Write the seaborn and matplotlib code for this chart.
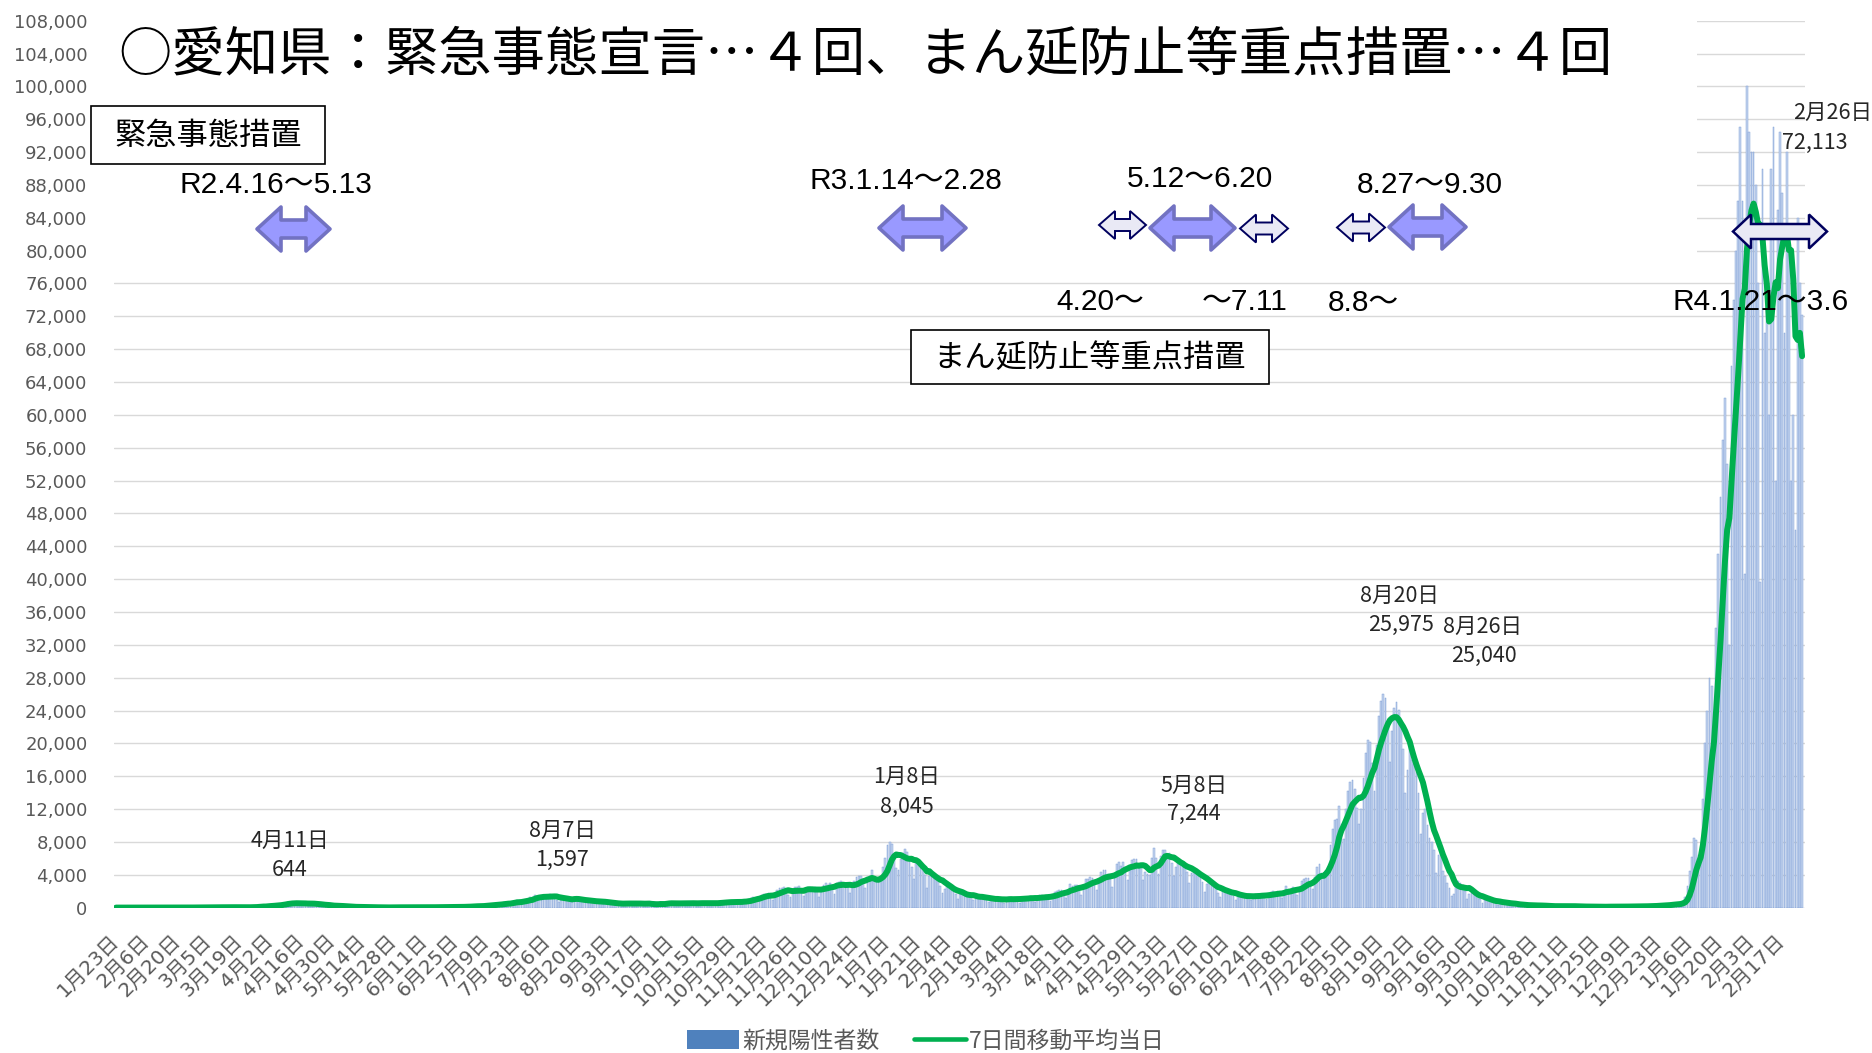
import numpy as np
import pandas as pd
import matplotlib
matplotlib.use("Agg")
import matplotlib.pyplot as plt
from matplotlib.patches import Rectangle, Polygon, Patch
from matplotlib.lines import Line2D
from matplotlib.font_manager import FontProperties
import seaborn as sns

# ---------------- data ----------------
# daily new positive cases, 2020-01-23 (Thu) .. 2022-02-26 (Sat); one row = Thu..Wed
cases = [
    0, 0, 1, 0, 1, 0, 1,
    3, 2, 3, 0, 0, 1, 3,
    2, 1, 0, 2, 3, 1, 1,
    4, 4, 12, 4, 6, 5, 8,
    12, 10, 15, 12, 6, 14, 13,
    19, 18, 12, 9, 14, 12, 33,
    33, 56, 44, 34, 34, 26, 54,
    52, 62, 41, 62, 15, 44, 39,
    39, 40, 51, 32, 40, 56, 65,
    95, 123, 200, 194, 173, 87, 266,
    236, 235, 367, 353, 252, 375, 515,
    576, 620, 644, 557, 347, 460, 485,
    580, 570, 560, 450, 370, 390, 430,
    430, 440, 350, 220, 170, 280, 250,
    200, 220, 290, 200, 110, 90, 120,
    95, 110, 100, 60, 70, 85, 60,
    55, 60, 45, 25, 50, 30, 30,
    30, 25, 15, 15, 20, 30, 30,
    40, 45, 40, 40, 35, 40, 45,
    48, 40, 45, 45, 30, 40, 38,
    50, 60, 50, 48, 35, 45, 55,
    70, 68, 70, 60, 30, 60, 90,
    100, 105, 120, 100, 60, 110, 130,
    200, 230, 210, 200, 100, 160, 220,
    360, 420, 380, 340, 180, 320, 420,
    620, 650, 660, 500, 280, 630, 790,
    980, 780, 790, 850, 650, 990, 1260,
    1300, 1580, 1450, 1330, 960, 1240, 1360,
    1480, 1597, 1540, 1360, 900, 680, 970,
    1180, 1320, 1220, 1020, 660, 930, 1080,
    1080, 1040, 910, 760, 500, 700, 850,
    840, 870, 760, 630, 420, 580, 620,
    590, 580, 530, 430, 280, 480, 500,
    640, 610, 540, 440, 270, 500, 510,
    590, 550, 490, 480, 310, 240, 350,
    490, 540, 640, 470, 310, 520, 570,
    620, 560, 570, 420, 330, 550, 560,
    690, 620, 550, 420, 300, 520, 660,
    700, 620, 620, 400, 280, 500, 620,
    720, 730, 800, 600, 400, 650, 740,
    800, 850, 750, 600, 450, 860, 840,
    1050, 1140, 1300, 1200, 860, 1260, 1540,
    1660, 1700, 1730, 1440, 950, 1700, 2200,
    2390, 2420, 2510, 2100, 1520, 1230, 1900,
    2500, 2500, 2680, 2060, 1430, 2020, 2430,
    2520, 2440, 2500, 2050, 1330, 2100, 2800,
    2970, 2790, 3040, 2400, 1680, 2990, 3170,
    3210, 2990, 2800, 2480, 1810, 2660, 3270,
    3740, 3830, 3880, 3290, 2370, 3540, 3850,
    4520, 3250, 3060, 3140, 3320, 4900, 6000,
    7570, 8045, 7790, 6090, 4880, 4540, 5870,
    6600, 7130, 6800, 5760, 4930, 3540, 5660,
    5450, 5040, 4740, 3980, 2330, 3860, 3890,
    3940, 3580, 3450, 2670, 1790, 2320, 2630,
    2570, 2290, 1990, 1600, 1020, 1680, 2050,
    1620, 1320, 1580, 1360, 980, 1220, 1450,
    1330, 1240, 1230, 1100, 680, 1000, 1080,
    1060, 1220, 1040, 980, 600, 1000, 1230,
    1170, 1150, 1070, 1060, 620, 1120, 1320,
    1290, 1300, 1320, 1070, 730, 1130, 1500,
    1480, 1410, 1500, 1350, 810, 1500, 1910,
    2000, 2100, 2100, 1900, 1200, 2100, 2900,
    2570, 2710, 2780, 2470, 1570, 2650, 3450,
    3460, 3690, 3630, 3130, 2120, 3450, 4310,
    4560, 4530, 4100, 3530, 2480, 3910, 5290,
    5500, 5120, 5600, 4600, 3310, 4880, 5800,
    5900, 5860, 5310, 5020, 3360, 4300, 4100,
    4000, 6050, 7244, 6040, 4050, 6250, 7050,
    7000, 6500, 6700, 5400, 3800, 4900, 5800,
    5500, 5500, 5200, 4300, 3000, 4200, 4700,
    4300, 4100, 3800, 3100, 1900, 2900, 3200,
    2700, 2600, 2420, 1830, 1260, 2100, 2260,
    2010, 1940, 1700, 1390, 920, 1440, 1640,
    1560, 1520, 1390, 1310, 870, 1370, 1700,
    1660, 1630, 1590, 1400, 1010, 1560, 1950,
    1970, 1890, 1970, 1600, 1120, 2000, 2650,
    2240, 2270, 2500, 2120, 1480, 2350, 3190,
    3430, 3560, 3640, 2700, 2310, 3750, 5000,
    5350, 4200, 3800, 4500, 4690, 7630, 9580,
    10690, 10760, 12340, 10160, 8390, 12020, 14210,
    15260, 15510, 14470, 12070, 10140, 11990, 15800,
    18870, 20370, 20150, 17660, 14220, 19790, 23380,
    25150, 25975, 25490, 22280, 17710, 21520, 24310,
    25040, 24010, 22250, 19270, 13910, 16780, 20000,
    18000, 17500, 16500, 14000, 9000, 11500, 12000,
    10000, 8500, 8000, 7000, 4200, 6400, 6800,
    4500, 3900, 3000, 2400, 1400, 1600, 3000,
    3200, 3000, 2700, 2000, 1100, 1700, 1800,
    1600, 1500, 1400, 1100, 600, 900, 1100,
    900, 800, 800, 600, 370, 600, 690,
    620, 500, 500, 430, 230, 390, 390,
    340, 320, 290, 230, 150, 300, 300,
    290, 280, 280, 160, 90, 210, 160,
    230, 180, 200, 160, 110, 200, 210,
    190, 190, 180, 130, 80, 130, 160,
    140, 130, 140, 100, 60, 50, 120,
    130, 110, 130, 110, 80, 110, 130,
    130, 120, 130, 130, 80, 120, 150,
    160, 140, 140, 130, 90, 170, 190,
    170, 200, 190, 180, 130, 250, 270,
    290, 320, 350, 270, 230, 380, 500,
    470, 500, 450, 550, 780, 1270, 2640,
    4500, 6200, 8500, 8200, 6400, 6400, 13200,
    20000, 24000, 28000, 27000, 22000, 34000, 43000,
    50000, 57000, 62000, 54000, 32000, 66000, 74000,
    80000, 86000, 95000, 86000, 40600, 100000, 94500,
    92000, 92000, 88000, 76000, 39600, 90000, 70000,
    76000, 60000, 90000, 95000, 52000, 85000, 94500,
    87000, 70000, 92000, 80000, 51900, 60000, 46000,
    84000, 76000, 72113,
]

tick_labels = [
    "1月23日", "2月6日", "2月20日", "3月5日", "3月19日", "4月2日", "4月16日", "4月30日",
    "5月14日", "5月28日", "6月11日", "6月25日", "7月9日", "7月23日", "8月6日", "8月20日",
    "9月3日", "9月17日", "10月1日", "10月15日", "10月29日", "11月12日", "11月26日",
    "12月10日", "12月24日", "1月7日", "1月21日", "2月4日", "2月18日", "3月4日", "3月18日",
    "4月1日", "4月15日", "4月29日", "5月13日", "5月27日", "6月10日", "6月24日", "7月8日",
    "7月22日", "8月5日", "8月19日", "9月2日", "9月16日", "9月30日", "10月14日", "10月28日",
    "11月11日", "11月25日", "12月9日", "12月23日", "1月6日", "1月20日", "2月3日", "2月17日",
]
y_ticks = list(range(0, 108001, 4000))

series_names = ["新規陽性者数", "7日間移動平均当日"]
title_text = "○愛知県：緊急事態宣言…４回、まん延防止等重点措置…４回"
peak_labels = [("4月11日", "644"), ("8月7日", "1,597"), ("1月8日", "8,045"),
               ("5月8日", "7,244"), ("8月20日", "25,975"), ("8月26日", "25,040"),
               ("2月26日", "72,113")]

# ---------------- style ----------------
sns.set_theme(style="white")
plt.rcParams['font.family'] = ['DejaVu Sans', 'Noto Sans CJK JP']

W, H = 1872, 1053
fig = plt.figure(figsize=(W / 100, H / 100), dpi=100)
fig.patch.set_facecolor("white")


def fx(x):
    return x / W


def fy(y):
    return 1 - y / H


ax_l, ax_r, ax_t, ax_b = 113.8, 1805.4, 20.7, 907.6
ax = fig.add_axes([fx(ax_l), fy(ax_b), (ax_r - ax_l) / W, (ax_b - ax_t) / H])

df = pd.DataFrame({"day": np.arange(len(cases)), "cases": cases})
df["ma7"] = df["cases"].rolling(7, min_periods=1).mean()

sns.barplot(data=df, x="day", y="cases", native_scale=True, width=0.8,
            color="#C5D4EE", saturation=1, edgecolor="#7396D2", linewidth=0.3,
            errorbar=None, ax=ax, zorder=1)
sns.lineplot(data=df, x="day", y="ma7", color="#00B050", linewidth=4.3,
             ax=ax, zorder=3)

ax.set_xlim(-1, 766.5)
ax.set_ylim(0, 108000)
ax.set_yticks(y_ticks)
ax.set_yticklabels([f"{v:,}" for v in y_ticks])
ax.set_xticks(df["day"].values[::14])
ax.set_xticklabels(tick_labels, rotation=45, ha="right", va="center",
                   rotation_mode="anchor")
ax.tick_params(axis="both", length=0, colors="#595959")
ax.tick_params(axis="y", pad=19, labelsize=13)
ax.tick_params(axis="x", pad=22, labelsize=14.5)
ax.set_xlabel("")
ax.set_ylabel("")
ax.grid(axis="y", color="#D9D9D9", linewidth=1.0)
ax.grid(axis="x", visible=False)
ax.set_axisbelow(True)
for s in ax.spines.values():
    s.set_visible(False)

# white panel behind the title/annotations hides the upper gridlines
ax.add_patch(Rectangle((-1, 78000), 718.3, 30000, facecolor="white",
                       edgecolor="none", zorder=0.8))


# ---------------- annotations ----------------
def double_arrow(x0, x1, yc, hh, ss, hl, fc, ec, lw, join):
    pts = [(x0, yc), (x0 + hl, yc - hh / 2), (x0 + hl, yc - ss / 2),
           (x1 - hl, yc - ss / 2), (x1 - hl, yc - hh / 2), (x1, yc),
           (x1 - hl, yc + hh / 2), (x1 - hl, yc + ss / 2),
           (x0 + hl, yc + ss / 2), (x0 + hl, yc + hh / 2)]
    pts = [(fx(px), fy(py)) for px, py in pts]
    fig.patches.append(Polygon(pts, closed=True, facecolor=fc, edgecolor=ec,
                               linewidth=lw, joinstyle=join,
                               transform=fig.transFigure, figure=fig, zorder=5))


FAT = dict(fc="#9999FF", ec="#7272C2", lw=2.6, join="round")
THIN = dict(fc="#E9E9F5", ec="#00005E", lw=1.4, join="miter")
double_arrow(257, 330, 229, 44, 18, 24, **FAT)
double_arrow(879, 966, 228, 44, 18, 24, **FAT)
double_arrow(1099, 1146, 225, 28, 12, 16, **THIN)
double_arrow(1150, 1235, 228, 44, 18, 24, **FAT)
double_arrow(1240, 1288, 228.5, 28, 12, 16, **THIN)
double_arrow(1337, 1385, 227.5, 28, 12, 16, **THIN)
double_arrow(1389, 1466, 227, 44, 18, 24, **FAT)
double_arrow(1733, 1827, 231.5, 34, 15, 18, fc="#E9E9F5", ec="#00005E",
             lw=1.8, join="miter")

CJK = ["Noto Sans CJK JP", "DejaVu Sans"]
LAT = ["Liberation Sans", "Noto Sans CJK JP"]

fig.text(fx(118), fy(55), title_text, fontsize=38.4, ha="left", va="center",
         family=CJK, color="black", zorder=6)

for (x0, y0, x1, y1, txt) in [(91, 106, 325, 164, "緊急事態措置"),
                              (911, 330, 1269, 384, "まん延防止等重点措置")]:
    fig.patches.append(Rectangle((fx(x0), fy(y1)), (x1 - x0) / W, (y1 - y0) / H,
                                 facecolor="white", edgecolor="black",
                                 linewidth=1.2, transform=fig.transFigure,
                                 figure=fig, zorder=5))
    fig.text(fx((x0 + x1) / 2), fy((y0 + y1) / 2 + 1), txt, fontsize=22.5,
             ha="center", va="center", family=CJK, color="black", zorder=6)

for (cx, cy, txt) in [(276, 185, "R2.4.16～5.13"), (906, 181, "R3.1.14～2.28"),
                      (1200, 179, "5.12～6.20"), (1430, 185, "8.27～9.30"),
                      (1100, 302, "4.20～"), (1245, 302, "～7.11"),
                      (1363, 303, "8.8～"), (1761, 302, "R4.1.21～3.6")]:
    fig.text(fx(cx), fy(cy), txt, fontsize=21.5, ha="center", va="center",
             family=LAT, color="black", zorder=6)

label_pos = [((290, 841), (290, 870)), ((562, 831), (562, 860)),
             ((907, 777), (907, 807)), ((1194, 786), (1194, 814)),
             ((1399, 596), (1401, 625)), ((1482, 627), (1484, 656)),
             ((1833, 113), (1815, 143))]
for (d, v), ((dx, dy), (vx, vy)) in zip(peak_labels, label_pos):
    fig.text(fx(dx), fy(dy), d, fontsize=15.5, ha="center", va="center",
             family=CJK, color="#262626", zorder=6)
    fig.text(fx(vx), fy(vy), v, fontsize=15.5, ha="center", va="center",
             family=CJK, color="#262626", zorder=6)

# ---------------- legend ----------------
handles = [Patch(facecolor="#4F81BD", edgecolor="none", label=series_names[0]),
           Line2D([0], [0], color="#00B050", lw=3.3, label=series_names[1])]
fig.legend(handles=handles, loc="center", bbox_to_anchor=(fx(926), fy(1041)),
           ncol=2, frameon=False, handlelength=2.26, handleheight=0.9,
           handletextpad=0.15, columnspacing=1.5, labelcolor="#595959",
           prop=FontProperties(family=CJK, size=16.5))

fig.savefig("out.png", dpi=100, facecolor="white")
